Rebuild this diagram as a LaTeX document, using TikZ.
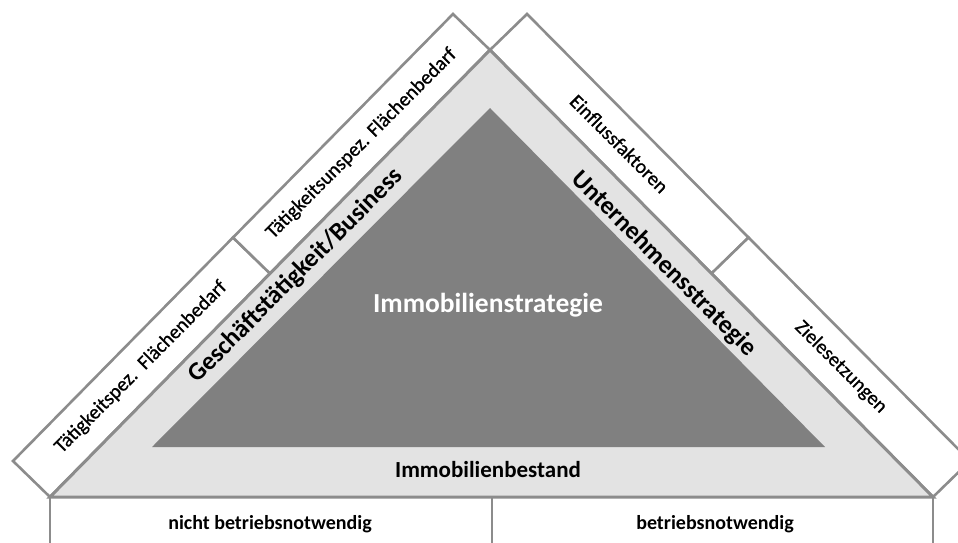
\documentclass[tikz,border=0pt]{standalone}
\usepackage{fontspec}
\setmainfont{Carlito}
\newfontfamily\cellfont{Carlito}[FakeBold=0.8]
\usetikzlibrary{calc}
\definecolor{rim}{HTML}{8C8C8C}
\definecolor{pale}{HTML}{E3E3E3}
\definecolor{core}{HTML}{808080}
\tikzset{
  band/.style={draw=rim, line width=2.6pt, fill=white, line join=miter},
  celltext/.style={font=\cellfont\fontsize{20}{22}\selectfont, inner sep=0pt},
  edgetext/.style={font=\bfseries\fontsize{25.5}{28}\selectfont, inner sep=0pt},
  basetext/.style={font=\bfseries\fontsize{20}{22}\selectfont, inner sep=0pt},
}
\begin{document}
\begin{tikzpicture}[x=1pt, y=-1pt]
\useasboundingbox (0,0) rectangle (958,543);
\clip (0,0) rectangle (958,543);

% corners of the outer triangle
\coordinate (A) at (490,50);
\coordinate (L) at (50,497);
\coordinate (R) at (933,497);
\coordinate (ML) at ($(L)!0.5!(A)$);
\coordinate (MR) at ($(A)!0.5!(R)$);
% outer corners of the side bands
\coordinate (Lo) at ($(L)+(-37,-36)$);
\coordinate (MLo) at ($(ML)+(-37,-36)$);
\coordinate (Ao1) at ($(A)+(-37,-36)$);
\coordinate (Ao2) at ($(A)+(37,-36)$);
\coordinate (MRo) at ($(MR)+(37,-36)$);
\coordinate (Ro) at ($(R)+(37,-36)$);
% inner triangle
\coordinate (IA) at (490,108);
\coordinate (IL) at (152,447);
\coordinate (IR) at (825,447);
% bottom cells
\coordinate (BM) at (492,497);
\coordinate (BMb) at (492,580);
\coordinate (BR) at (933,580);

% bottom cells
\draw[band] (L) rectangle (BMb);
\draw[band] (BM) rectangle (BR);

% side bands
\draw[band] (L) -- (ML) -- (MLo) -- (Lo) -- cycle;
\draw[band] (ML) -- (A) -- (Ao1) -- (MLo) -- cycle;
\draw[band] (A) -- (MR) -- (MRo) -- (Ao2) -- cycle;
\draw[band] (MR) -- (R) -- (Ro) -- (MRo) -- cycle;

% triangles
\draw[fill=pale, draw=rim, line width=3pt, line join=miter] (A) -- (R) -- (L) -- cycle;
\fill[core] (IA) -- (IR) -- (IL) -- cycle;

% band labels
\node[celltext, rotate=45] (t1) at ($(L)!0.5!(ML)+(-19,-18)$) {Tätigkeitspez.\ \ Flächenbedarf};
\node[celltext, rotate=45] (t2) at ($(ML)!0.5!(A)+(-18.5,-18)$) {Tätigkeitsunspez. Flächenbedarf};
\node[celltext, rotate=-45] (t3) at ($(A)!0.5!(MR)+(18.5,-18)$) {Einflussfaktoren};
\node[celltext, rotate=-45] (t4) at ($(MR)!0.5!(R)+(18.5,-18)$) {Zielesetzungen};

% labels along the triangle
\node[edgetext, rotate=45] (gb) at (296,276) {Geschäftstätigkeit/Business};
\node[edgetext, rotate=-45] (us) at (664,264) {Unternehmensstrategie};
\node[font=\bfseries\fontsize{27.5}{30}\selectfont, text=white, inner sep=0pt] (is) at (488,305) {Immobilienstrategie};
\node[font=\bfseries\fontsize{23}{26}\selectfont, inner sep=0pt] (ib) at (488,470) {Immobilienbestand};

% bottom labels
\node[basetext] (nb) at (270,524) {nicht betriebsnotwendig};
\node[basetext] (bn) at (715,524) {betriebsnotwendig};
\end{tikzpicture}
\end{document}
